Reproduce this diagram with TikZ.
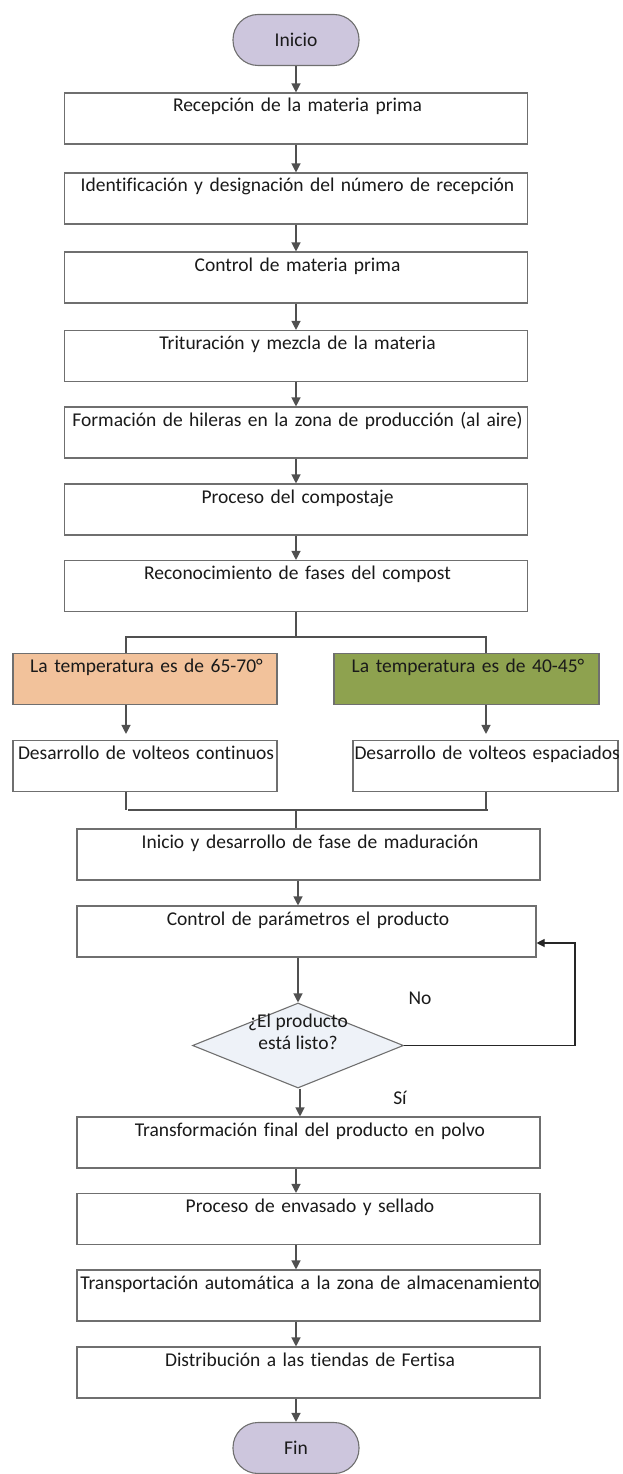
\documentclass[tikz,border=0pt]{standalone}
\usepackage{fontspec}
\setmainfont{Carlito}[Ligatures=NoCommon]
\usetikzlibrary{arrows.meta,shapes.geometric}
\definecolor{boxgray}{HTML}{6F6F6F}
\definecolor{linegray}{HTML}{505050}
\definecolor{lav}{HTML}{CDC6DD}
\definecolor{peach}{HTML}{F2C29B}
\definecolor{olive}{HTML}{8EA24F}
\definecolor{dfill}{HTML}{EEF2F8}
\definecolor{txt}{HTML}{1A1A1A}
\newcommand{\oneline}[1]{\makebox[\linewidth][c]{\hspace*{3pt}#1}}
\newcommand{\flushtext}[2][0pt]{\makebox[\linewidth][l]{\hspace*{#1}#2}}
\begin{document}
\begin{tikzpicture}[x=1pt,y=-1pt,
  font=\fontsize{19.5}{23}\selectfont,
  pbox/.style={draw=boxgray,line width=1.1pt,fill=white,inner xsep=4pt,inner ysep=0pt,
    text height=19pt,text depth=32pt,align=center,text=txt},
  term/.style={draw=boxgray,line width=1.1pt,fill=lav,rounded corners=25pt,
    minimum width=126pt,minimum height=51pt,inner sep=0pt,text=txt},
  dec/.style={draw=boxgray,line width=1.1pt,fill=dfill,shape=diamond,
    minimum width=211pt,minimum height=85pt,inner sep=0pt},
  arr/.style={draw=linegray,line width=1.2pt,-{Triangle[width=9pt,length=9pt]}},
  ln/.style={draw=linegray,line width=1.2pt},
  lbl/.style={inner sep=0pt,text=txt}]
\useasboundingbox (0,0) rectangle (622,1474);

\node[term] (start) at (296,40) {Inicio};
\node[pbox,text width=455pt] (b1) at (296,118.5) {\oneline{Recepción de la materia prima}};
\node[pbox,text width=455pt] (b2) at (296,198.5) {\oneline{Identificación y designación del número de recepción}};
\node[pbox,text width=455pt] (b3) at (296,277.5) {\oneline{Control de materia prima}};
\node[pbox,text width=455pt] (b4) at (296,356) {\oneline{Trituración y mezcla de la materia}};
\node[pbox,text width=455pt] (b5) at (296,432.5) {\oneline{Formación de hileras en la zona de producción (al aire)}};
\node[pbox,text width=455pt] (b6) at (296,509.5) {\oneline{Proceso del compostaje}};
\node[pbox,text width=455pt] (b7) at (296,586) {\oneline{Reconocimiento de fases del compost}};
\node[pbox,fill=peach,text width=256pt] (t1) at (145,679) {\oneline{La temperatura es de 65-70°}};
\node[pbox,fill=olive,text width=257pt] (t2) at (466.5,679) {\oneline{La temperatura es de 40-45°}};
\node[pbox,text width=256pt] (d1) at (145,766) {\flushtext[1pt]{Desarrollo de volteos continuos}};
\node[pbox,text width=257pt] (d2) at (485.5,766) {\flushtext[-2.5pt]{Desarrollo de volteos espaciados}};
\node[pbox,text width=455pt] (b8) at (308.5,854.5) {\oneline{Inicio y desarrollo de fase de maduración}};
\node[pbox,text width=451pt] (b9) at (306.5,931.5) {\oneline{Control de parámetros el producto}};
\node[dec] (dia) at (298,1045.5) {};
\node[lbl,align=center,font=\fontsize{19.5}{22}\selectfont] (dtext) at (298,1032) {¿El producto\\está listo?};
\node[pbox,text width=455pt] (b10) at (308.5,1142.5) {\oneline{Transformación final del producto en polvo}};
\node[pbox,text width=455pt] (b11) at (308.5,1219) {\oneline{Proceso de envasado y sellado}};
\node[pbox,text width=455pt] (b12) at (308.5,1295.5) {\oneline{Transportación automática a la zona de almacenamiento}};
\node[pbox,text width=455pt] (b13) at (308.5,1372.5) {\oneline{Distribución a las tiendas de Fertisa}};
\node[term] (fin) at (296,1448) {Fin};
\node[lbl] (no) at (420,998) {No};
\node[lbl] (si) at (400,1098) {Sí};

% main chain
\draw[arr] (start.south) -- (b1.north -| start);
\draw[arr] (b1.south) -- (b2.north);
\draw[arr] (b2.south) -- (b3.north);
\draw[arr] (b3.south) -- (b4.north);
\draw[arr] (b4.south) -- (b5.north);
\draw[arr] (b5.south) -- (b6.north);
\draw[arr] (b6.south) -- (b7.north);

% split
\coordinate (sl) at (126,637);
\coordinate (sr) at (486,637);
\draw[ln] (b7.south) -- (b7.south |- sl);
\draw[ln] (t1.north -| sl) -- (sl) -- (sr) -- (t2.north -| sr);
\draw[arr,shorten >=6pt] (t1.south -| sl) -- (d1.north -| sl);
\draw[arr,shorten >=6pt] (t2.south -| sr) -- (d2.north -| sr);

% merge
\coordinate (ml) at (128,810);
\coordinate (mr) at (488,810);
\draw[ln] (d1.south -| sl) -- (sl |- ml);
\draw[ln] (d2.south -| sr) -- (sr |- mr);
\draw[ln] (ml) -- (mr);
\draw[ln] (start |- ml) -- (b8.north -| start);

% lower chain
\draw[arr] (b8.south -| dia) -- (b9.north -| dia);
\draw[arr] (b9.south -| dia) -- (dia.north);
\draw[arr] (dia.south -| 300,0) -- (b10.north -| 300,0);
\draw[arr] (b10.south -| start) -- (b11.north -| start);
\draw[arr] (b11.south -| start) -- (b12.north -| start);
\draw[arr] (b12.south -| start) -- (b13.north -| start);
\draw[arr] (b13.south -| start) -- (fin.north);

% loop back
\coordinate (lc) at (575,943);
\draw[draw=black!85,line width=1.1pt,-{Triangle[width=8pt,length=8pt]}]
  (dia.east) -- (lc |- dia.east) -- (lc) -- (lc -| b9.east);
\end{tikzpicture}
\end{document}
